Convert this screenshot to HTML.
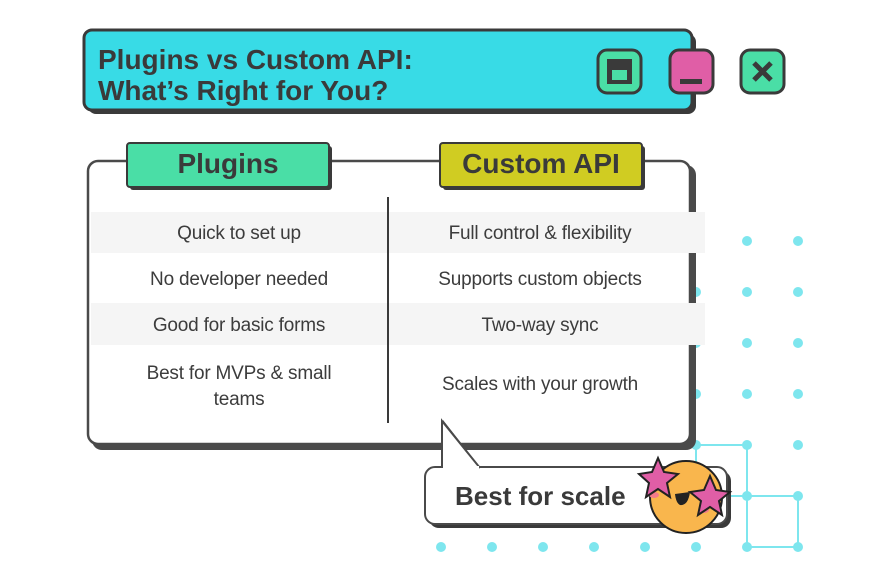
<!DOCTYPE html>
<html><head><meta charset="utf-8"><style>
body{margin:0;width:885px;height:573px;background:#fff;position:relative;overflow:hidden;font-family:"Liberation Sans",sans-serif;color:#3a3a3a}
.a{position:absolute}
.t{position:absolute;font-size:19px;font-weight:normal;text-align:center;color:#3c3c3c;letter-spacing:-0.2px}
</style></head><body>
<svg class="a" style="left:0;top:0" width="885" height="573">
 <g fill="#7ee6ee">
  <circle cx="696" cy="241" r="5"/><circle cx="747" cy="241" r="5"/><circle cx="798" cy="241" r="5"/>
  <circle cx="696" cy="292" r="5"/><circle cx="747" cy="292" r="5"/><circle cx="798" cy="292" r="5"/>
  <circle cx="696" cy="343" r="5"/><circle cx="747" cy="343" r="5"/><circle cx="798" cy="343" r="5"/>
  <circle cx="696" cy="394" r="5"/><circle cx="747" cy="394" r="5"/><circle cx="798" cy="394" r="5"/>
  <circle cx="696" cy="445" r="5"/><circle cx="747" cy="445" r="5"/><circle cx="798" cy="445" r="5"/>
  <circle cx="747" cy="496" r="5"/><circle cx="798" cy="496" r="5"/>
  <circle cx="441" cy="547" r="5"/><circle cx="492" cy="547" r="5"/><circle cx="543" cy="547" r="5"/><circle cx="594" cy="547" r="5"/><circle cx="645" cy="547" r="5"/><circle cx="696" cy="547" r="5"/><circle cx="747" cy="547" r="5"/><circle cx="798" cy="547" r="5"/>
 </g>
 <g stroke="#7ee6ee" stroke-width="2" fill="none">
  <path d="M696 445H747V547H798V496H730"/>
  <path d="M696 445V470"/>
 </g>
 <rect x="92" y="165" width="604" height="285" rx="10" fill="#4a4a4a"/>
 <rect x="88" y="161" width="602" height="283" rx="10" fill="#fff" stroke="#4a4a4a" stroke-width="2.5"/>
 <rect x="91" y="212" width="614" height="41" fill="#f5f5f5"/>
 <rect x="91" y="303" width="614" height="42" fill="#f5f5f5"/>
 <line x1="388" y1="197" x2="388" y2="423" stroke="#3a3a3a" stroke-width="2"/>
 <rect x="88" y="34" width="608" height="80" rx="8" fill="#3a3a3a"/>
 <rect x="84" y="30" width="608" height="80" rx="8" fill="#38dbe6" stroke="#3a3a3a" stroke-width="3"/>
 <rect x="598" y="50" width="43" height="43" rx="9" fill="#4adea6" stroke="#3a3a3a" stroke-width="3"/>
 <rect x="607" y="59" width="25" height="25" fill="#3a3a3a"/><rect x="612" y="70" width="15" height="10" fill="#4adea6"/>
 <rect x="670" y="50" width="43" height="43" rx="9" fill="#e05ea6" stroke="#3a3a3a" stroke-width="3"/>
 <rect x="680" y="79" width="22" height="5" fill="#3a3a3a"/>
 <rect x="741" y="50" width="43" height="43" rx="9" fill="#4adea6" stroke="#3a3a3a" stroke-width="3"/>
 <path d="M754 63L771 80M771 63L754 80" stroke="#3a3a3a" stroke-width="5"/>
 <rect x="130" y="146" width="202" height="44" rx="3" fill="#3a3a3a"/>
 <rect x="127" y="143" width="202" height="44" rx="3" fill="#4adea6" stroke="#3a3a3a" stroke-width="2"/>
 <rect x="443" y="146" width="202" height="44" rx="3" fill="#3a3a3a"/>
 <rect x="440" y="143" width="202" height="44" rx="3" fill="#d0cc22" stroke="#3a3a3a" stroke-width="2"/>
 <rect x="429" y="471" width="302" height="57" rx="10" fill="#3a3a3a"/>
 <path d="M435 467H480L443 420V467Z" fill="#3a3a3a"/>
 <rect x="425" y="467" width="302" height="57" rx="10" fill="#fff" stroke="#4a4a4a" stroke-width="2"/>
 <path d="M442 468V421L480 468" fill="#fff" stroke="#4a4a4a" stroke-width="2"/>
 <rect x="443" y="466" width="36" height="4" fill="#fff"/>
 <circle cx="686" cy="497" r="36" fill="#f9b64d" stroke="#222" stroke-width="2"/>
 <ellipse cx="654" cy="495" rx="5" ry="3" fill="#f37a8a"/><ellipse cx="704" cy="510" rx="5" ry="3" fill="#f37a8a"/>
 <path d="M675 494L690 492Q688 506 680 505Q676 503 675 494Z" fill="#222"/>
 <polygon points="658,458 664,472 678,474 667,483 670,497 658,489 646,497 649,483 639,474 652,472" fill="#e05ea6" stroke="#222" stroke-width="2"/>
 <polygon points="710,476 716,490 730,492 719,501 722,515 710,507 698,515 701,501 690,492 704,490" fill="#e05ea6" stroke="#222" stroke-width="2"/>
</svg>
<div class="a" style="left:98px;top:44px;font-size:28px;font-weight:bold;line-height:31px;color:#3a3a3a">Plugins vs Custom API:<br>What’s Right for You?</div>
<div class="a" style="left:127px;top:148px;width:202px;text-align:center;font-size:28px;font-weight:bold">Plugins</div>
<div class="a" style="left:440px;top:148px;width:202px;text-align:center;font-size:28px;font-weight:bold">Custom API</div>
<div class="t" style="left:90px;top:223px;width:298px">Quick to set up</div>
<div class="t" style="left:90px;top:269px;width:298px">No developer needed</div>
<div class="t" style="left:90px;top:315px;width:298px">Good for basic forms</div>
<div class="t" style="left:90px;top:361px;width:298px;line-height:26px">Best for MVPs &amp; small<br>teams</div>
<div class="t" style="left:390px;top:223px;width:300px">Full control &amp; flexibility</div>
<div class="t" style="left:390px;top:269px;width:300px">Supports custom objects</div>
<div class="t" style="left:390px;top:315px;width:300px">Two-way sync</div>
<div class="t" style="left:390px;top:374px;width:300px">Scales with your growth</div>
<div class="a" style="left:455px;top:481px;font-size:26px;font-weight:bold">Best for scale</div>
</body></html>
